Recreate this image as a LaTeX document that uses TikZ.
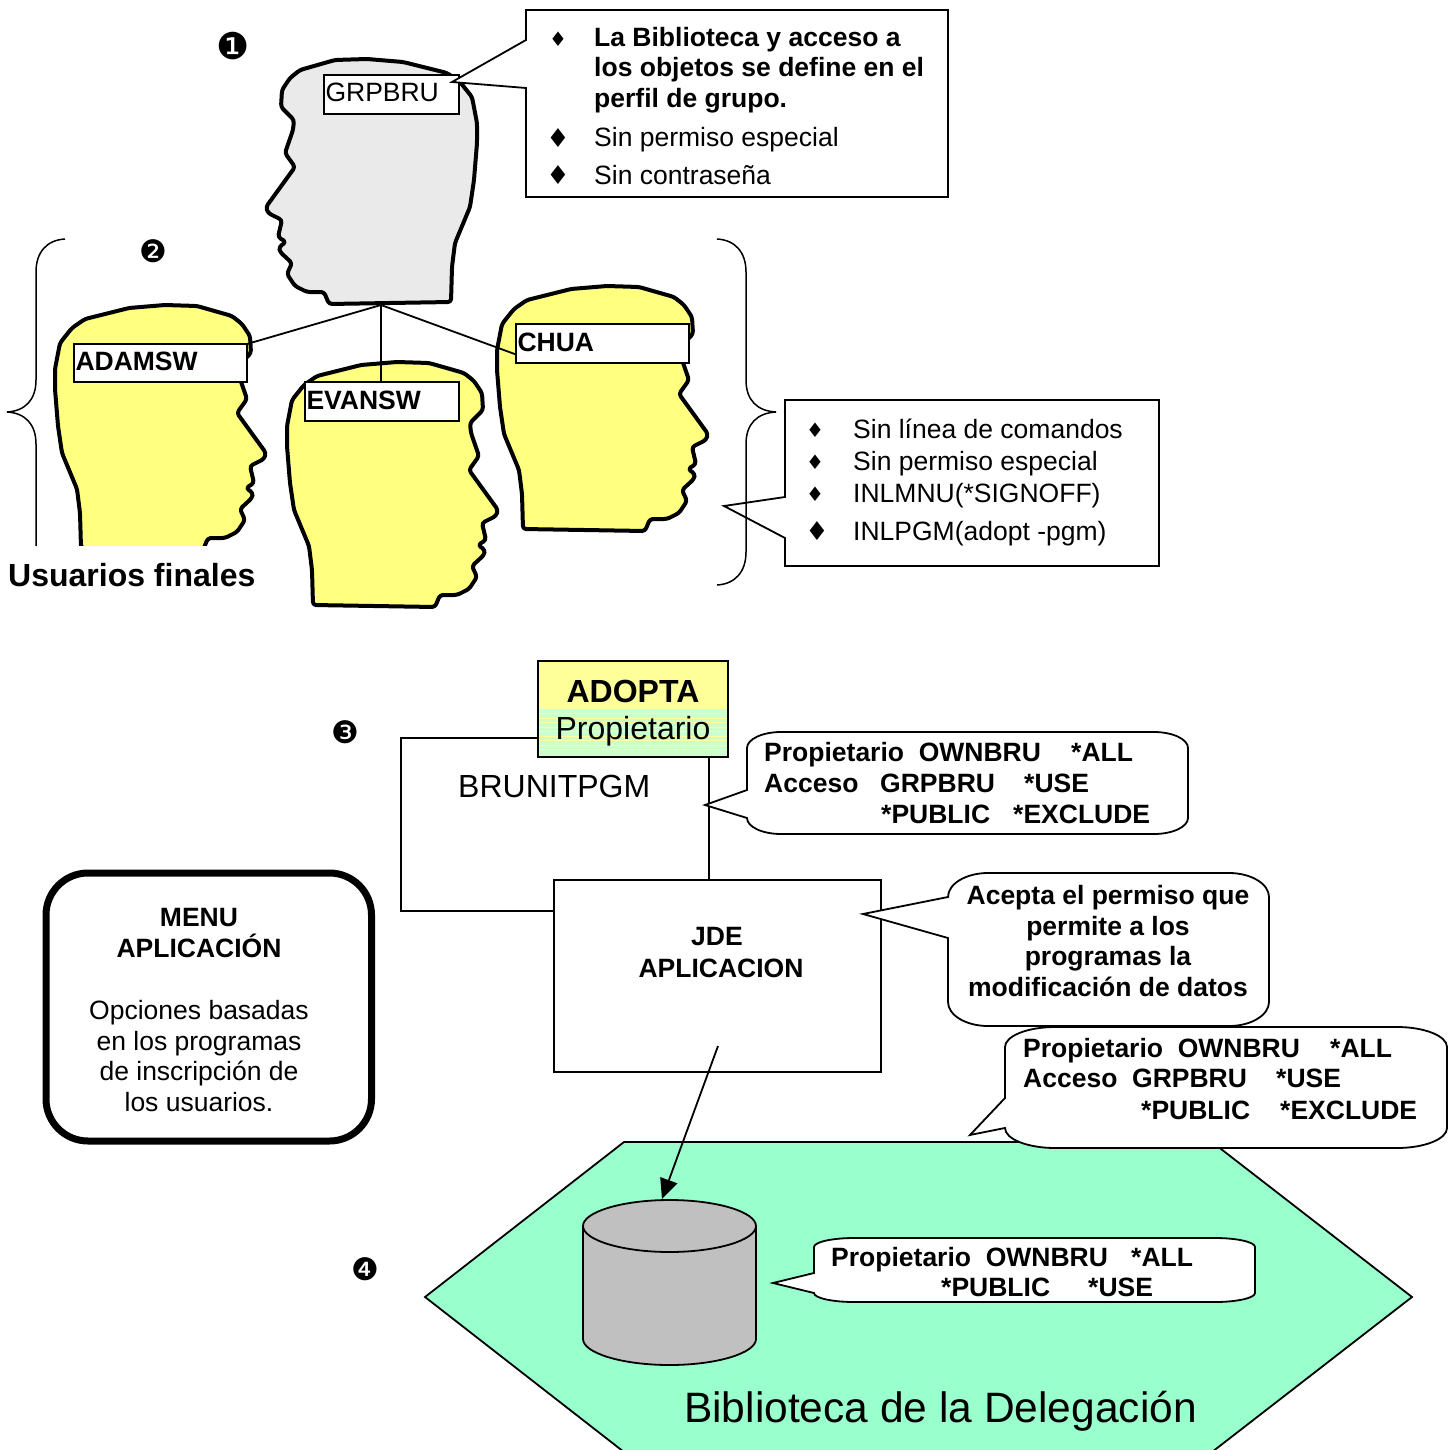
\documentclass[tikz,border=0pt]{standalone}
\usepackage{fontspec}
\setmainfont{Liberation Sans}
\newfontfamily\dingfont{DejaVu Sans}
\usetikzlibrary{arrows.meta}
\definecolor{headyellow}{HTML}{FFFF80}
\definecolor{headgrey}{HTML}{EAEAEA}
\definecolor{adoptyellow}{HTML}{FFFF99}
\definecolor{adoptgreen}{HTML}{CCFFCC}
\definecolor{libgreen}{HTML}{99FFCC}
\definecolor{dbgrey}{HTML}{C0C0C0}
\tikzset{
  headline/.style={line width=4pt,line join=round,rounded corners=3pt},
  thinline/.style={line width=1.8pt,line join=miter},
  txt/.style={anchor=base west,inner sep=0pt,font=\fontsize{26.5}{30}\selectfont},
  btxt/.style={txt,font=\fontsize{26.5}{30}\selectfont\bfseries},
  ctxt/.style={btxt,anchor=base},
  numtxt/.style={inner sep=0pt,font=\dingfont\fontsize{#1}{#1}\selectfont},
  bullettxt/.style={inner sep=0pt,font=\dingfont\fontsize{#1}{#1}\selectfont},
  labelbox/.style={thinline,draw,fill=white,anchor=north west,align=left,inner ysep=0pt,inner xsep=1.5pt,outer sep=0pt,
    text height=19pt,text depth=4pt,font=\fontsize{26.5}{30}\selectfont},
  plainbox/.style={thinline,draw,fill=white,anchor=north west,inner sep=0pt,outer sep=0pt},
  bubbleline/.style={thinline,fill=white}
}
% profile of a head, facing left
\newcommand{\headshape}[1]{
  \draw[headline,fill=#1] (300,70) -- (335,60) -- (367,59) -- (403,62) -- (447,73) -- (460,82) -- (472,97) -- (477,123)
    -- (477,143) -- (474,180) -- (470,207) -- (455,243) -- (452,267) -- (451,302) -- (329,304) -- (324,292) -- (307,292) -- (295,286)
    -- (287,274) -- (292,263) -- (280,252) -- (279,247) -- (286,242) -- (278,237) -- (282,220) -- (268,213)
    -- (266,207) -- (295,167) -- (285,153) -- (293,130) -- (294,120) -- (281,107) -- (282,90) -- (290,78) -- cycle;
}
% speech bubble: x1 y1 x2 y2 rx ry, then the tail from bottom to top of the left side
\newcommand{\bubble}[7]{
  \draw[bubbleline] (#1,{#4-#6}) #7 -- (#1,{#2+#6})
    .. controls (#1,{#2+.45*#6}) and ({#1+.45*#5},#2) .. ({#1+#5},#2) -- ({#3-#5},#2)
    .. controls ({#3-.45*#5},#2) and (#3,{#2+.45*#6}) .. (#3,{#2+#6}) -- (#3,{#4-#6})
    .. controls (#3,{#4-.45*#6}) and ({#3-.45*#5},#4) .. ({#3-#5},#4) -- ({#1+#5},#4)
    .. controls ({#1+.45*#5},#4) and (#1,{#4-.45*#6}) .. (#1,{#4-#6}) -- cycle;
}
\begin{document}
\begin{tikzpicture}[x=1pt,y=-1pt]
\useasboundingbox (0,0) rectangle (1453,1450);
% Heads
\headshape{headgrey}
\begin{scope}[shift={(532,246)},xscale=-1]
  \headshape{headyellow}
\end{scope}
\begin{scope}[shift={(974,227)},xscale=-1]
  \headshape{headyellow}
\end{scope}
\begin{scope}[shift={(764,303)},xscale=-1]
  \headshape{headyellow}
\end{scope}
\node[fill=white,inner sep=0pt,outer sep=0pt,anchor=north west,minimum width=275pt,minimum height=60pt] (usrmask) at (0,546) {};
\node[txt,font=\fontsize{32}{36}\selectfont\bfseries] (usuarios) at (8,586) {Usuarios finales};
% Labels of the heads
\coordinate (grpfoot) at (381,305);
\node[labelbox,minimum width=135pt,minimum height=39pt,text width=132pt] (grpbru) at (324,75) {GRPBRU};
\node[labelbox,minimum width=173pt,minimum height=38pt,text width=170pt,font=\fontsize{26.5}{30}\selectfont\bfseries] (adamsw) at (74,344) {ADAMSW};
\node[labelbox,minimum width=154pt,minimum height=39pt,text width=151pt,font=\fontsize{26.5}{30}\selectfont\bfseries] (evansw) at (305,382) {EVANSW};
\node[labelbox,minimum width=173pt,minimum height=39pt,text width=170pt,font=\fontsize{26.5}{30}\selectfont\bfseries] (chua) at (516,324) {CHUA};
\draw[thinline] (grpfoot) -- (adamsw.north east);
\draw[thinline] (grpfoot) -- (evansw.north -| grpfoot);
\draw[thinline] (grpfoot) -- ([yshift=-11pt]chua.west);
% Numbers
\node[numtxt=37] (numa) at (233,46) {❶};
\node[numtxt=31] (numb) at (153,251) {❷};
\node[numtxt=31] (numc) at (345,732) {❸};
\node[numtxt=31] (numd) at (365,1269) {❹};
% Upper callout
\draw[thinline,fill=white] (526,10) -- (948,10) -- (948,197) -- (526,197) -- (526,88) -- (452,82) -- (526,40) -- cycle;
\node[btxt] (perfila) at (594,47) {La Biblioteca y acceso a};
\node[btxt] (perfilb) at (594,77) {los objetos se define en el};
\node[btxt] (perfilc) at (594,108) {perfil de grupo.};
\node[txt] (perfild) at (594,147) {Sin permiso especial};
\node[txt] (perfile) at (594,185) {Sin contraseña};
% Right callout and braces
\draw[thinline,fill=white] (785,400) -- (1159,400) -- (1159,566) -- (785,566) -- (785,538) -- (724,506) -- (785,497) -- cycle;
\node[txt] (userlna) at (853,438) {Sin línea de comandos};
\node[txt] (userlnb) at (853,470) {Sin permiso especial};
\node[txt] (userlnc) at (853,502) {INLMNU(*SIGNOFF)};
\node[txt] (userlnd) at (853,540) {INLPGM(adopt -pgm)};
\foreach \n/\x/\y/\s in {a/558/39/20,b/558/138/26,c/558/175/26,d/815/430/20,e/815/462/20,f/815/494/20,g/817/531/26}
  \node[bullettxt=\s] (bullet\n) at (\x,\y) {♦};
\draw[line width=1.5pt] (65,239) .. controls (47,240) and (36,252) .. (36,272) -- (36,380)
  .. controls (36,400) and (25,411) .. (7,412) .. controls (25,413) and (36,424) .. (36,444) -- (36,546);
\draw[line width=1.5pt] (717,239) .. controls (735,240) and (746,252) .. (746,272) -- (746,380)
  .. controls (746,400) and (757,411) .. (776,412) .. controls (757,413) and (746,424) .. (746,444) -- (746,552)
  .. controls (746,572) and (735,584) .. (717,585);
% Programs
\node[plainbox,minimum width=308pt,minimum height=173pt] (brunit) at (401,738) {};
\node[txt,font=\fontsize{32}{36}\selectfont] (brunittxt) at (458,797) {BRUNITPGM};
\node[plainbox,fill=adoptyellow,minimum width=190pt,minimum height=96pt] (adopta) at (538,661) {};
\fill[adoptgreen] (539,709) rectangle (727,756);
\foreach \y in {713.5,718,...,753}
  \draw[adoptyellow,line width=1pt] (539,\y) -- (727,\y);
\node[btxt,anchor=base,font=\fontsize{32}{36}\selectfont\bfseries] (adoptatxt) at (633,702) {ADOPTA};
\node[txt,anchor=base,font=\fontsize{32}{36}\selectfont] (propiet) at (633,739) {Propietario};
\node[plainbox,minimum width=327pt,minimum height=192pt] (jde) at (554,880) {};
\node[ctxt] (jdetxt) at (717,945) {JDE};
\node[ctxt] (apltxt) at (721,977) {APLICACION};
\bubble{747}{732}{1188}{834}{34}{16}{-- (747,818) -- (705,805) -- (747,790)}
\node[btxt] (ownera) at (764,761) {Propietario\ \ OWNBRU};
\node[btxt] (ownerb) at (1071,761) {*ALL};
\node[btxt] (accsa) at (764,792) {Acceso};
\node[btxt] (accsb) at (880,792) {GRPBRU};
\node[btxt] (accsc) at (1024,792) {*USE};
\node[btxt] (pubna) at (881,823) {*PUBLIC};
\node[btxt] (pubnb) at (1013,823) {*EXCLUDE};
\bubble{948}{873}{1269}{1026}{40}{24}{-- (948,938) -- (863,914) -- (948,897)}
\node[ctxt] (acepa) at (1108,904) {Acepta el permiso que};
\node[ctxt] (acepb) at (1108,935) {permite a los};
\node[ctxt] (acepc) at (1108,965) {programas la};
\node[ctxt] (acepd) at (1108,996) {modificación de datos};
% Menu
\node[draw,line width=7pt,rounded corners=42pt,fill=white,minimum width=325.5pt,minimum height=268pt,inner sep=0pt,outer sep=0pt] (menu) at (208.75,1007) {};
\node[ctxt] (menua) at (199,926) {MENU};
\node[ctxt] (menub) at (199,957) {APLICACIÓN};
\foreach \n/\y/\t in {c/1019/Opciones basadas,d/1050/en los programas,e/1080/de inscripción de,f/1111/los usuarios.}
  \node[txt,anchor=base] (menu\n) at (199,\y) {\t};
% Library
\draw[thinline,fill=libgreen] (624,1142) -- (1212,1142) -- (1412,1297) -- (1212,1452) -- (624,1452) -- (425,1297) -- cycle;
\bubble{1005}{1027}{1447}{1148}{50}{20}{-- (1005,1128) -- (970,1135) -- (1005,1098)}
\node[btxt] (libowna) at (1023,1057) {Propietario\ \ OWNBRU};
\node[btxt] (libownb) at (1330,1057) {*ALL};
\node[btxt] (libacca) at (1023,1087) {Acceso\ \ GRPBRU};
\node[btxt] (libaccb) at (1276,1087) {*USE};
\node[btxt] (libpuba) at (1141,1119) {*PUBLIC};
\node[btxt] (libpubb) at (1280,1119) {*EXCLUDE};
\draw[thinline,fill=dbgrey] (583,1226) .. controls (583,1212) and (622,1200) .. (669.5,1200)
  .. controls (717,1200) and (756,1212) .. (756,1226) -- (756,1339)
  .. controls (756,1353) and (717,1365) .. (669.5,1365)
  .. controls (622,1365) and (583,1353) .. (583,1339) -- cycle;
\draw[thinline] (583,1226) .. controls (583,1240) and (622,1252) .. (669.5,1252)
  .. controls (717,1252) and (756,1240) .. (756,1226);
\coordinate (jdeout) at (718,1046);
\coordinate (dbtop) at (662,1199);
\draw[thinline,-{Triangle[length=20pt,width=18pt]}] (jdeout) -- (dbtop);
\bubble{814}{1238}{1255}{1302}{40}{9}{-- (814,1293) -- (773,1283) -- (814,1273)}
\node[btxt] (dbowna) at (831,1266) {Propietario\ \ OWNBRU};
\node[btxt] (dbownb) at (1131,1266) {*ALL};
\node[btxt] (dbpuba) at (941,1296) {*PUBLIC};
\node[btxt] (dbpubb) at (1088,1296) {*USE};
\node[txt,font=\fontsize{42.5}{46}\selectfont] (biblio) at (684,1422) {Biblioteca de la Delegación};
\end{tikzpicture}
\end{document}
